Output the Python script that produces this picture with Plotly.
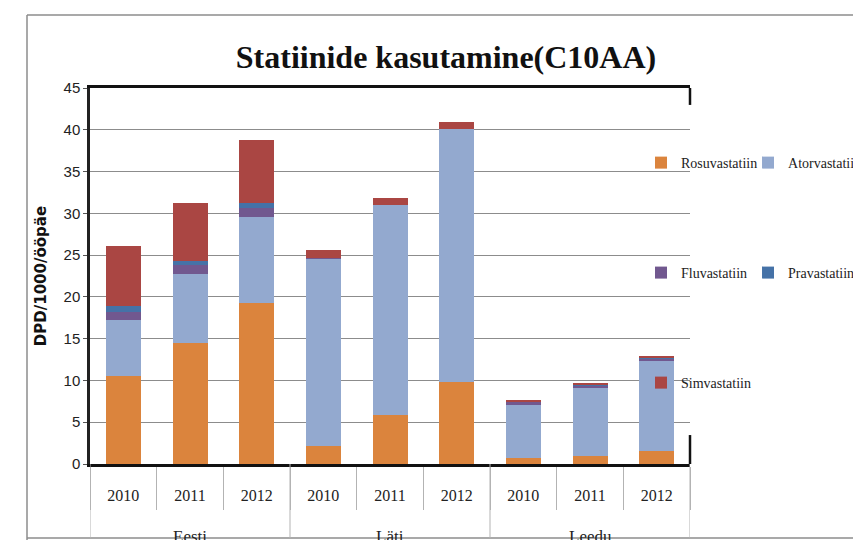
import plotly.graph_objects as go

countries = ["Eesti", "Läti", "Leedu"]
years = ["2010", "2011", "2012"]

rosuvastatiin = [10.5, 14.45, 19.3, 2.15, 5.85, 9.8, 0.75, 1.0, 1.55]
atorvastatiin = [6.7, 8.3, 10.3, 22.45, 25.1, 30.3, 6.3, 8.15, 10.8]
fluvastatiin = [1.0, 1.05, 1.05, 0.1, 0.0, 0.0, 0.4, 0.2, 0.25]
pravastatiin = [0.7, 0.5, 0.55, 0.0, 0.0, 0.0, 0.05, 0.05, 0.05]
simvastatiin = [7.2, 6.95, 7.6, 0.9, 0.85, 0.85, 0.2, 0.25, 0.25]

series = [
    ("Rosuvastatiin", rosuvastatiin, "#DB843D", "legend"),
    ("Atorvastatiin", atorvastatiin, "#93A9CF", "legend4"),
    ("Fluvastatiin", fluvastatiin, "#71588F", "legend2"),
    ("Pravastatiin", pravastatiin, "#4572A7", "legend5"),
    ("Simvastatiin", simvastatiin, "#AA4643", "legend3"),
]

title = "Statiinide kasutamine(C10AA)"
y_title = "DPD/1000/ööpäe"
y_ticks = [0, 5, 10, 15, 20, 25, 30, 35, 40, 45]

n_years = len(years)
x_idx = list(range(len(countries) * n_years))
x_labels = [y for _ in countries for y in years]
boundaries = [i - 0.5 for i in range(len(x_idx) + 1)]
group_bounds = [g * n_years - 0.5 for g in range(len(countries) + 1)]
group_centers = [g * n_years + (n_years - 1) / 2 for g in range(len(countries))]

serif = "Liberation Serif"
sans = "Liberation Sans"

fig = go.Figure()
for name, vals, color, leg in series:
    fig.add_trace(go.Bar(
        x=x_idx, y=vals, name=name, legend=leg,
        marker=dict(color=color, line=dict(width=0)),
    ))

frame = dict(color="#8c8c8c", width=1.5)
shapes = []
# outer chart frame (left, top, bottom edges; right edge lies outside the picture)
shapes.append(dict(type="line", xref="paper", yref="paper", x0=-0.105, x1=-0.105,
                   y0=-0.25, y1=1.194, line=frame, layer="above"))
shapes.append(dict(type="line", xref="paper", yref="paper", x0=-0.105, x1=1.4,
                   y0=1.194, y1=1.194, line=frame, layer="above"))
shapes.append(dict(type="line", xref="paper", yref="paper", x0=-0.105, x1=1.4,
                   y0=-0.197, y1=-0.197, line=frame, layer="above"))
# white area under legend hiding gridlines (between gridlines and bars)
shapes.append(dict(type="rect", xref="paper", yref="paper",
                   x0=0.96, x1=1.0, y0=0.04, y1=0.96,
                   line=dict(width=0), fillcolor="white", layer="between"))
# right border bracket pieces
shapes.append(dict(type="line", xref="paper", yref="paper", x0=1, x1=1, y0=0.955, y1=1.0,
                   line=dict(color="#111", width=2.5)))
shapes.append(dict(type="line", xref="paper", yref="paper", x0=1, x1=1, y0=0.0, y1=0.077,
                   line=dict(color="#111", width=2.5)))
# group dividers on category axis
for b in group_bounds:
    shapes.append(dict(type="line", xref="x", yref="paper", x0=b, x1=b, y0=0, y1=-0.197,
                       line=dict(color="#b3b3b3", width=1)))

annotations = []
for c, xc in zip(countries, group_centers):
    annotations.append(dict(text=c, x=xc, xref="x", y=-0.162, yref="paper",
                            yanchor="top", showarrow=False,
                            font=dict(family=serif, size=17, color="#222")))

legend_common = dict(orientation="v", xanchor="left", yanchor="middle",
                     bgcolor="rgba(0,0,0,0)", borderwidth=0,
                     font=dict(family=serif, size=14, color="#222"))

col1_x, col2_x = 0.9183, 1.0967
row_y = [0.8005, 0.508, 0.2154]

# the page adds an 8px body margin, so the figure is 8px smaller than the window
fig.update_layout(
    width=853, height=532, autosize=False,
    margin=dict(l=82, r=171, t=80, b=76, autoexpand=False),
    paper_bgcolor="white", plot_bgcolor="white",
    barmode="stack", bargap=0.475,
    title=dict(text=title, x=0.5135, xanchor="center", y=0.908, yanchor="middle",
               font=dict(family=serif, size=32, color="#111", weight=700)),
    xaxis=dict(range=[-0.5, len(x_idx) - 0.5], tickmode="array", tickvals=x_idx,
               ticktext=x_labels, ticks="outside", ticklen=15,
               tickcolor="rgba(0,0,0,0)", showgrid=False, zeroline=False,
               showline=True, mirror=True, linecolor="#111", linewidth=2.5,
               tickfont=dict(family=serif, size=16, color="#222"),
               minor=dict(tickmode="array", tickvals=boundaries, ticks="outside",
                          ticklen=43, tickcolor="#b3b3b3", tickwidth=1, showgrid=False)),
    yaxis=dict(range=[0, 45], tickmode="array", tickvals=y_ticks,
               showgrid=True, gridcolor="#8c8c8c", gridwidth=1, zeroline=False,
               showline=True, linecolor="#222", linewidth=2.5,
               ticks="outside", ticklen=4, tickcolor="#555",
               tickfont=dict(family=sans, size=15, color="#222"),
               title=dict(text=y_title, standoff=14,
                          font=dict(family="DejaVu Sans", size=15, color="#111", weight=700))),
    legend=dict(x=col1_x, y=row_y[0], **legend_common),
    legend4=dict(x=col2_x, y=row_y[0], **legend_common),
    legend2=dict(x=col1_x, y=row_y[1], **legend_common),
    legend5=dict(x=col2_x, y=row_y[1], **legend_common),
    legend3=dict(x=col1_x, y=row_y[2], **legend_common),
    shapes=shapes,
    annotations=annotations,
    showlegend=True,
)

fig.write_html("out.html")
